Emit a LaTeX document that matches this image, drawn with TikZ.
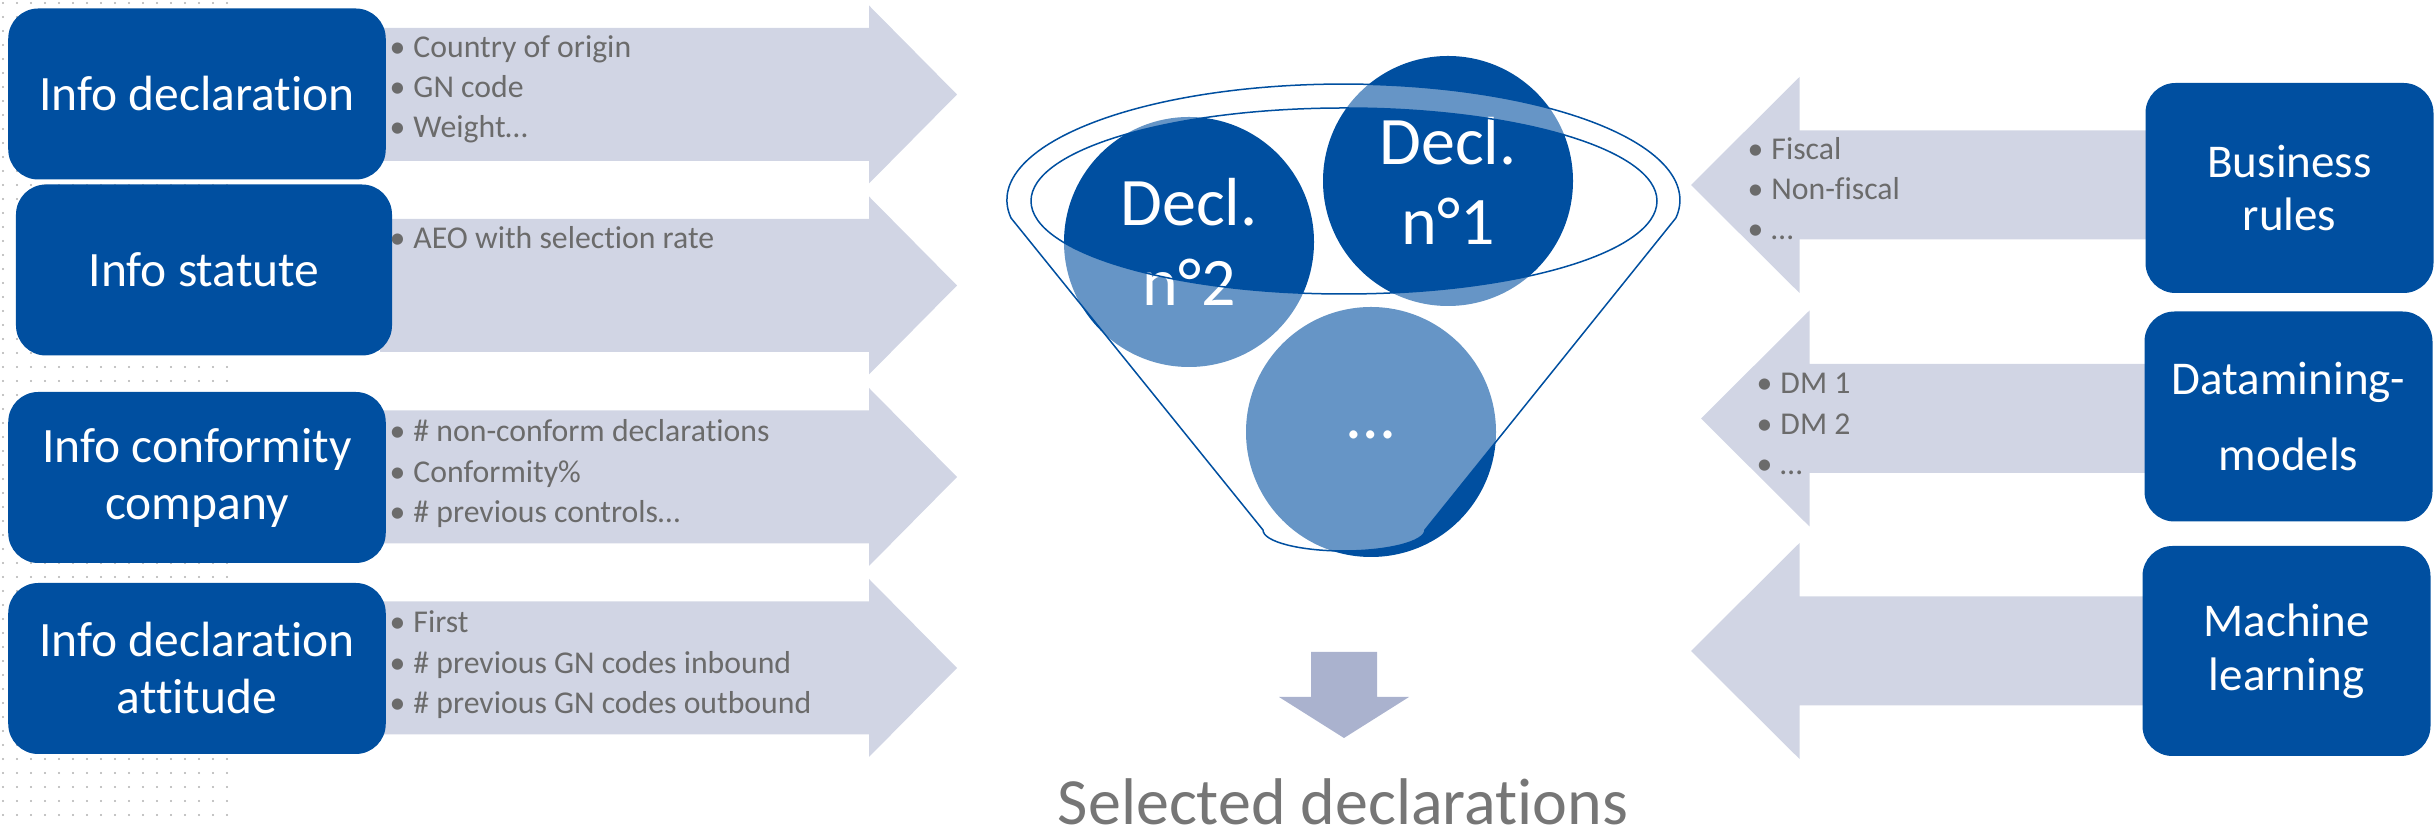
\documentclass[tikz,border=0pt]{standalone}
\usepackage{fontspec}
\setmainfont{Carlito}[Ligatures=NoCommon]
\definecolor{boxblue}{HTML}{004FA0}
\definecolor{arrowgray}{HTML}{D1D5E4}
\definecolor{downgray}{HTML}{AAB2CE}
\definecolor{itemgray}{HTML}{6B6B6B}
\definecolor{selgray}{HTML}{767676}
\definecolor{dotgray}{HTML}{B0B0B0}

\begin{document}
\begin{tikzpicture}[x=0.4pt,y=-0.4pt]
\tikzset{
  leftbox/.style={fill=boxblue, rounded corners=12pt, text=white, align=center,
    minimum width=151pt, minimum height=68.4pt, font=\fontsize{19.8}{22.8}\selectfont},
  rightbox/.style={fill=boxblue, rounded corners=12pt, text=white, align=center,
    minimum width=115.2pt, minimum height=84pt, font=\fontsize{18.8}{21.4}\selectfont},
  item/.style={anchor=base west, inner sep=0pt, text=itemgray, font=\fontsize{12.7}{16}\selectfont},
  decl/.style={circle, fill=boxblue, minimum size=100pt, inner sep=0pt, text=white,
    align=center, font=\fontsize{27.2}{32}\selectfont},
  band/.style={fill=arrowgray}
}
\useasboundingbox (0,0) rectangle (2435,830);

\foreach \x in {0,...,16}
  \foreach \y in {0,...,58}
    \fill[dotgray] (3+14*\x,3+14*\y) circle (1.2);

\foreach \yc in {94.5,285.5,477,668}
  \fill[band] (380,\yc-66.5) -- (869,\yc-66.5) -- (869,\yc-89) -- (957,\yc)
    -- (869,\yc+89) -- (869,\yc+66.5) -- (380,\yc+66.5) -- cycle;
\foreach \tip/\yc in {1691/185,1701/418.5,1691/651}
  \fill[band] (\tip,\yc) -- (\tip+108.5,\yc-108) -- (\tip+108.5,\yc-54.5) -- (2150,\yc-54.5)
    -- (2150,\yc+54.5) -- (\tip+108.5,\yc+54.5) -- (\tip+108.5,\yc+108) -- cycle;

\node[leftbox] (decl) at (197,94) {Info declaration};
\node[leftbox, minimum width=150.4pt] (statute) at (204,270) {Info statute};
\node[leftbox] (conform) at (197,477.5) {Info conformity\\company};
\node[leftbox] (attitude) at (197,668.5) {Info declaration\\attitude};
\node[rightbox] (rules) at (2289.5,188) {Business\\rules};
\node[rightbox] (mining) at (2288.5,416.5) {Datamining-\\[9pt]models};
\node[rightbox] (learning) at (2286.5,651) {Machine\\learning};

\foreach \t [count=\i] in {Country of origin, GN code, Weight…}
  \node[item] (decl-\i) at (389,18+40*\i) {\makebox[9.6pt][l]{•}\t};
\node[item] (statute-1) at (389,249) {\makebox[9.6pt][l]{•}AEO with selection rate};
\foreach \t [count=\i] in {\# non-conform declarations, Conformity\%, \# previous controls…}
  \node[item] (conform-\i) at (389,401.5+40.5*\i) {\makebox[9.6pt][l]{•}\t};
\foreach \t [count=\i] in {First, \# previous GN codes inbound, \# previous GN codes outbound}
  \node[item] (attitude-\i) at (389,592.5+40.5*\i) {\makebox[9.6pt][l]{•}\t};
\foreach \t [count=\i] in {Fiscal, Non-fiscal, …}
  \node[item] (rules-\i) at (1747,120+40*\i) {\makebox[9.6pt][l]{•}\t};
\foreach \t [count=\i] in {DM 1, DM 2, …}
  \node[item] (mining-\i) at (1756,353.5+40.5*\i) {\makebox[9.6pt][l]{•}\t};

\node[decl] (n2) at (1189,242) {Decl.\\n°2};
\node[decl] (n1) at (1448,181) {Decl.\\n°1};
\node[decl, text height=0.7em, text depth=0.2em] (more) at (1371,432) {…};

\path[draw=boxblue, line width=0.6pt, fill=white, fill opacity=0.4, even odd rule]
  (1011,218) arc[start angle=171.1, end angle=368.9, x radius=336.5, y radius=116]
  -- (1425,530) arc[start angle=0, end angle=180, x radius=81, y radius=21] -- cycle
  (1344,201) ellipse[x radius=313, y radius=93];

\fill[downgray] (1311,652) -- (1377,652) -- (1377,697) -- (1409,697) -- (1344,738)
  -- (1279,697) -- (1311,697) -- cycle;
\node[anchor=base, inner sep=0pt, text=selgray, font=\fontsize{26.4}{30}\selectfont] (sel) at (1343,825) {Selected declarations};
\end{tikzpicture}
\end{document}
